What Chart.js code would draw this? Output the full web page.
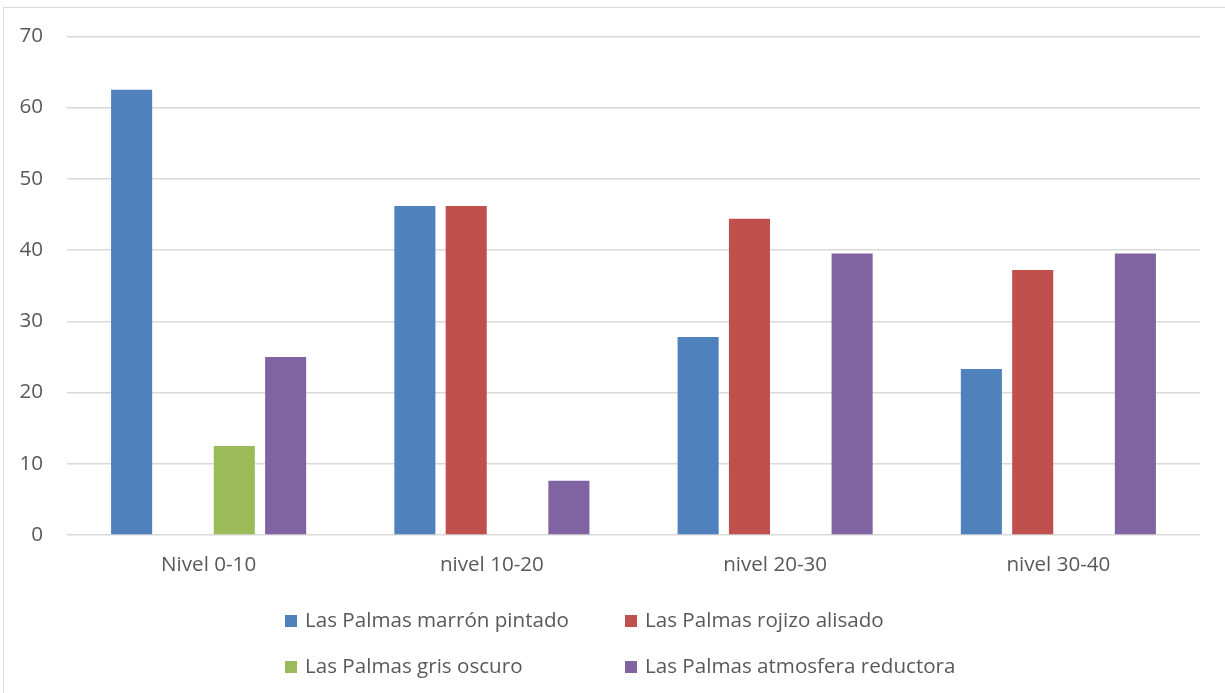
<!DOCTYPE html>
<html>
<head>
<meta charset="utf-8">
<script src="https://cdn.jsdelivr.net/npm/chart.js@4/dist/chart.umd.min.js"></script>
<style>
  html, body { margin: 0; padding: 0; background: #ffffff; overflow: hidden; }
  #wrap { position: relative; width: 1225px; height: 693px; }
</style>
</head>
<body>
<div id="wrap"><canvas id="chart"></canvas></div>
<script>
// Categories (levels) and series values
const niveles = ['Nivel 0-10', 'nivel 10-20', 'nivel 20-30', 'nivel 30-40'];
const marronPintado = [62.5, 46.2, 27.8, 23.3];
const rojizoAlisado = [0, 46.2, 44.4, 37.2];
const grisOscuro = [12.5, 0, 0, 0];
const atmosferaReductora = [25, 7.6, 39.5, 39.5];
const seriesNames = [
  'Las Palmas marrón pintado',
  'Las Palmas rojizo alisado',
  'Las Palmas gris oscuro',
  'Las Palmas atmosfera reductora'
];
const seriesColors = ['#4F81BD', '#C0504D', '#9BBB59', '#8064A2'];
const yTicks = [0, 10, 20, 30, 40, 50, 60, 70];

const FONT = '"Open Sans", "DejaVu Sans", sans-serif';
const FONT_SIZE = 20.6;
const TEXT = '#595959';
const GRID = '#D9D9D9';

// Outer frame of the chart area
const framePlugin = {
  id: 'frame',
  beforeDraw(chart) {
    const ctx = chart.ctx;
    ctx.save();
    ctx.fillStyle = '#ffffff';
    ctx.fillRect(0, 0, chart.width, chart.height);
    ctx.strokeStyle = GRID;
    ctx.lineWidth = 1;
    ctx.strokeRect(3.5, 7.5, chart.width + 10, chart.height + 10);
    ctx.restore();
  }
};

// Two-column legend below the axis
const gridLegendPlugin = {
  id: 'gridLegend',
  afterDraw(chart) {
    const ctx = chart.ctx;
    const area = chart.chartArea;
    const colX = [area.left + 218, area.left + 558];
    const rowY = [area.bottom + 86, area.bottom + 132];
    ctx.save();
    ctx.font = FONT_SIZE + 'px ' + FONT;
    ctx.textBaseline = 'middle';
    ctx.textAlign = 'left';
    chart.data.datasets.forEach((ds, i) => {
      const x = colX[i % 2];
      const y = rowY[Math.floor(i / 2)];
      ctx.fillStyle = ds.backgroundColor;
      ctx.fillRect(x, y - 6, 12, 12);
      ctx.fillStyle = TEXT;
      ctx.fillText(ds.label, x + 20, y);
    });
    ctx.restore();
  }
};

const seriesData = [marronPintado, rojizoAlisado, grisOscuro, atmosferaReductora];

new Chart(document.getElementById('chart'), {
  type: 'bar',
  data: {
    labels: niveles,
    datasets: seriesData.map((values, i) => ({
      label: seriesNames[i],
      data: values,
      backgroundColor: seriesColors[i],
      borderWidth: 0,
      categoryPercentage: 0.725,
      barPercentage: 0.8
    }))
  },
  options: {
    responsive: true,
    maintainAspectRatio: false,
    animation: false,
    layout: { padding: { top: 36, right: 25, bottom: 98, left: 0 } },
    plugins: {
      legend: { display: false },
      tooltip: { enabled: false },
      title: { display: false }
    },
    scales: {
      x: {
        grid: { display: false, drawTicks: false },
        border: { display: false },
        ticks: { color: TEXT, font: { family: FONT, size: FONT_SIZE }, padding: 18 },
        afterFit(scale) { scale.height = 60; }
      },
      y: {
        min: yTicks[0],
        max: yTicks[yTicks.length - 1],
        afterBuildTicks(scale) { scale.ticks = yTicks.map(v => ({ value: v })); },
        grid: { color: GRID, lineWidth: 1.4, drawTicks: false },
        border: { display: false },
        ticks: { color: TEXT, font: { family: FONT, size: FONT_SIZE }, padding: 24 },
        afterFit(scale) { scale.width = 67; }
      }
    }
  },
  plugins: [framePlugin, gridLegendPlugin]
});
</script>
</body>
</html>
